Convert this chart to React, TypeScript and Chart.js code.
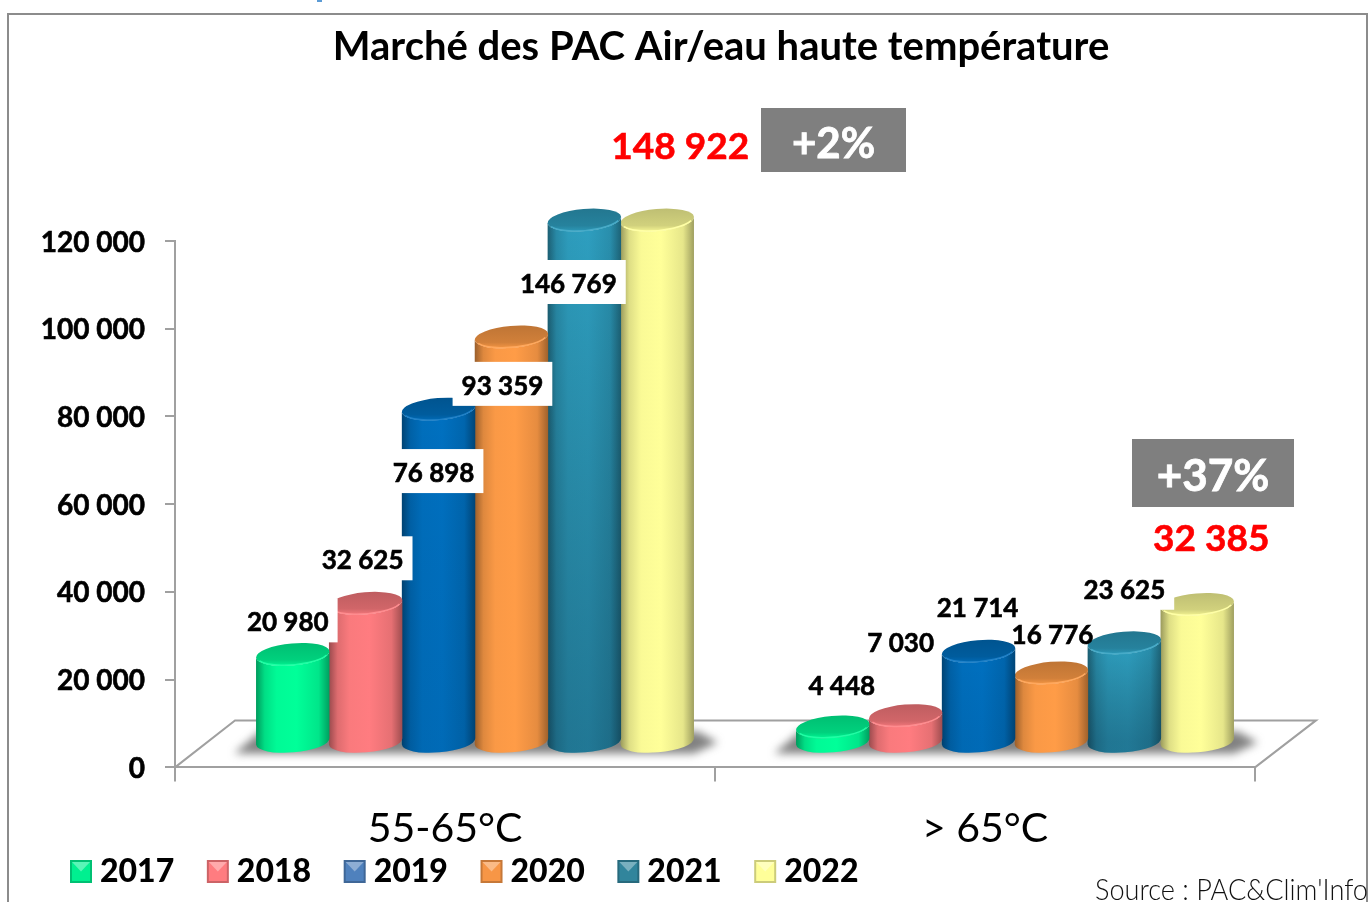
import React, { useEffect, useRef } from "react";
import { Chart, BarController, BarElement, registerables } from "chart.js";

const categories = ["55-65°C", "> 65°C"];
const years = ["2017", "2018", "2019", "2020", "2021", "2022"];
const values2017 = [20980, 4448];
const values2018 = [32625, 7030];
const values2019 = [76898, 21714];
const values2020 = [93359, 16776];
const values2021 = [146769, 23625];
const values2022 = [148922, 32385];
const yTicks = [0, 20000, 40000, 60000, 80000, 100000, 120000];
const growthLabels = ["+2%", "+37%"];
const chartTitle = "Marché des PAC Air/eau haute température";
const sourceNote = "Source : PAC&Clim'Info";

const seriesColors = ["#00FF99", "#FF7C80", "#0070C0", "#FF9C47", "#2E9FC0", "#FFFF99"];
const legendColors = ["#00F090", "#FF7C80", "#4F81BD", "#F79646", "#31859C", "#FFFF99"];
const bodyDarken = [0, 0, 0.06, 0, 0.28, 0];

const FONT = "Lato, Carlito, sans-serif";
const AXIS = "#A0A0A0";

// label offsets from [bar centre, bar top], by year then category; bg = white plate behind the text
const labelOffsets = [
  [{ dx: 25, dy: -55, bg: true }, { dx: 39, dy: -64, bg: false }],
  [{ dx: 27, dy: -66, bg: true }, { dx: 25, dy: -95, bg: false }],
  [{ dx: 25, dy: 41, bg: true }, { dx: 29, dy: -66, bg: false }],
  [{ dx: 21, dy: 26, bg: true }, { dx: 31, dy: -61, bg: false }],
  [{ dx: 14, dy: 41, bg: true }, { dx: 30, dy: -76, bg: true }],
  [{ dx: 53, dy: -96, bg: false }, { dx: 44, dy: -89, bg: false }],
];
const growthBoxes = [
  { x: 761, y: 108, w: 145, h: 64, size: 42 },
  { x: 1132, y: 439, w: 162, h: 68, size: 44 },
];

function shade(hex: string, f: number): string {
  const n = parseInt(hex.slice(1), 16);
  const c = [(n >> 16) & 255, (n >> 8) & 255, n & 255].map((v) => Math.round(v * f));
  return `rgb(${c[0]},${c[1]},${c[2]})`;
}
function lighten(hex: string, f: number): string {
  const n = parseInt(hex.slice(1), 16);
  const c = [(n >> 16) & 255, (n >> 8) & 255, n & 255].map((v) => Math.round(v + (255 - v) * f));
  return `rgb(${c[0]},${c[1]},${c[2]})`;
}
const formatNumber = (v: number) => String(v).replace(/\B(?=(\d{3})+(?!\d))/g, " ");

const TILT = (-5 * Math.PI) / 180;
const RY = 11;
const TOP_SHIFT = -21;
const BASE_SHIFT = -25;
const DEPTH_X = 30;
let plotTop = 0;

class CylinderElement extends BarElement {
  static id = "cylinder";
  draw(ctx: CanvasRenderingContext2D) {
    const self = this as any;
    const { x, y, base, width, options } = self;
    const color = options.backgroundColor as string;
    const idx = seriesColors.indexOf(color);
    const rx = width / 2 + 0.4;
    const cx = x + DEPTH_X;
    const topY = Math.max(y, plotTop) + TOP_SHIFT;
    const baseY = base + BASE_SHIFT;
    ctx.save();
    const grad = ctx.createLinearGradient(cx - rx, 0, cx + rx, 0);
    grad.addColorStop(0, shade(color, 0.6));
    grad.addColorStop(0.12, shade(color, 0.87));
    grad.addColorStop(0.28, shade(color, 0.98));
    grad.addColorStop(0.55, color);
    grad.addColorStop(0.85, shade(color, 0.9));
    grad.addColorStop(1, shade(color, 0.62));
    const body = () => {
      ctx.beginPath();
      ctx.ellipse(cx, topY, rx, RY, TILT, Math.PI, 0, true);
      ctx.ellipse(cx, baseY, rx, RY, TILT, 0, Math.PI, false);
      ctx.closePath();
    };
    body();
    ctx.fillStyle = grad;
    ctx.fill();
    const dark = bodyDarken[idx];
    if (dark > 0) {
      const v = ctx.createLinearGradient(0, topY, 0, baseY);
      v.addColorStop(0, "rgba(0,0,0,0)");
      v.addColorStop(1, `rgba(0,20,40,${dark})`);
      body();
      ctx.fillStyle = v;
      ctx.fill();
    }
    // top face
    const topGrad = ctx.createLinearGradient(0, topY - RY, 0, topY + RY);
    topGrad.addColorStop(0, shade(color, 0.75));
    topGrad.addColorStop(0.75, shade(color, 0.82));
    topGrad.addColorStop(1, shade(color, 0.95));
    ctx.beginPath();
    ctx.ellipse(cx, topY, rx, RY, TILT, 0, Math.PI * 2);
    ctx.fillStyle = topGrad;
    ctx.fill();
    ctx.beginPath();
    ctx.ellipse(cx, topY, rx - 1, RY - 0.5, TILT, 0.35, Math.PI - 0.35);
    ctx.strokeStyle = lighten(color, 0.12);
    ctx.lineWidth = 1.5;
    ctx.stroke();
    ctx.restore();
  }
}

class CylinderController extends BarController {
  static id = "cylinder";
  static defaults = { ...(BarController as any).defaults, dataElementType: "cylinder" };
}

Chart.register(...registerables, CylinderElement as any, CylinderController as any);

const cylinderScene = {
  id: "cylinderScene",
  afterLayout(chart: any) {
    plotTop = chart.chartArea.top;
    const tb = chart.titleBlock;
    tb.left = 74;
    tb.right = 1368;
    const lg = chart.legend;
    const w = lg.right - lg.left;
    const h = lg.bottom - lg.top;
    lg.left = 37.4;
    lg.right = 37.4 + w;
    lg.top = 823.4;
    lg.bottom = 823.4 + h;
    chart.scales.x.bottom = 860;
  },
  beforeDraw(chart: any) {
    const { ctx } = chart;
    ctx.save();
    ctx.strokeStyle = "#8C8C8C";
    ctx.lineWidth = 2;
    ctx.beginPath();
    ctx.moveTo(8, 903);
    ctx.lineTo(8, 14);
    ctx.lineTo(1367, 14);
    ctx.lineTo(1367, 903);
    ctx.stroke();
    ctx.fillStyle = "#5B9BD5";
    ctx.fillRect(317, 0, 5, 2);
    ctx.restore();
  },
  beforeDatasetsDraw(chart: any) {
    const { ctx, chartArea: a } = chart;
    ctx.save();
    ctx.strokeStyle = AXIS;
    ctx.lineWidth = 2;
    ctx.beginPath();
    ctx.moveTo(a.left, a.bottom);
    ctx.lineTo(a.left + 60, a.bottom - 47);
    ctx.lineTo(a.right + 61, a.bottom - 47);
    ctx.lineTo(a.right, a.bottom);
    ctx.stroke();
    const first = chart.getDatasetMeta(0).data;
    const last = chart.getDatasetMeta(years.length - 1).data;
    ctx.filter = "blur(4px)";
    ctx.fillStyle = "rgba(80,80,80,0.72)";
    first.forEach((el: any, i: number) => {
      const l = el.x - el.width / 2 + DEPTH_X - 22;
      const r = last[i].x + last[i].width / 2 + DEPTH_X + 24;
      ctx.beginPath();
      ctx.moveTo(l, a.bottom - 14);
      ctx.lineTo(l + 26, a.bottom - 36);
      ctx.lineTo(r - 20, a.bottom - 36);
      ctx.lineTo(r, a.bottom - 25);
      ctx.lineTo(r - 24, a.bottom - 14);
      ctx.closePath();
      ctx.fill();
    });
    ctx.restore();
  },
  afterDatasetsDraw(chart: any) {
    const { ctx, chartArea: a } = chart;
    ctx.save();
    ctx.textAlign = "center";
    ctx.textBaseline = "middle";
    chart.data.datasets.forEach((ds: any, i: number) => {
      chart.getDatasetMeta(i).data.forEach((el: any, j: number) => {
        const off = labelOffsets[i][j];
        const red = i === years.length - 1;
        const text = formatNumber(ds.data[j]);
        const cx = el.x + off.dx;
        const cy = Math.max(el.y, a.top) + off.dy;
        ctx.font = `bold ${red ? 37 : 26}px ${FONT}`;
        if (off.bg) {
          const w = ctx.measureText(text).width + 18;
          ctx.fillStyle = "#FFFFFF";
          ctx.fillRect(cx - w / 2, cy - 22, w, 44);
        }
        ctx.fillStyle = red ? "#FF0000" : "#000000";
        ctx.strokeStyle = ctx.fillStyle;
        ctx.lineWidth = 0.6;
        ctx.strokeText(text, cx, cy + 2.5);
        ctx.fillText(text, cx, cy + 2.5);
      });
    });
    growthBoxes.forEach((b, i) => {
      ctx.fillStyle = "#7F7F7F";
      ctx.fillRect(b.x, b.y, b.w, b.h);
      ctx.fillStyle = "#FFFFFF";
      ctx.strokeStyle = "#FFFFFF";
      ctx.lineWidth = 0.8;
      ctx.font = `bold ${b.size}px ${FONT}`;
      ctx.strokeText(growthLabels[i], b.x + b.w / 2, b.y + b.h / 2 + 4);
      ctx.fillText(growthLabels[i], b.x + b.w / 2, b.y + b.h / 2 + 4);
    });
    ctx.restore();
  },
  afterDraw(chart: any) {
    const { ctx } = chart;
    const lg = chart.legend;
    ctx.save();
    lg.legendHitBoxes.forEach((h: any, i: number) => {
      const x = h.left;
      const y = 860;
      const w = 22;
      const ht = 23;
      const c = legendColors[i];
      ctx.fillStyle = shade(c, 0.8);
      ctx.fillRect(x, y, w, ht);
      ctx.fillStyle = c;
      ctx.fillRect(x + 2, y + 2, w - 4, ht - 4);
      ctx.fillStyle = lighten(c, 0.35);
      ctx.beginPath();
      ctx.moveTo(x + 2, y + 2);
      ctx.lineTo(x + w - 2, y + 2);
      ctx.lineTo(x + w / 2, y + ht / 2);
      ctx.closePath();
      ctx.fill();
    });
    ctx.fillStyle = "#111111";
    ctx.font = `300 30px ${FONT}`;
    ctx.textAlign = "left";
    ctx.textBaseline = "alphabetic";
    ctx.fillText(sourceNote, 1095, 900, 273);
    ctx.restore();
  },
};

export default function App() {
  const ref = useRef<HTMLCanvasElement>(null);
  useEffect(() => {
    const seriesValues = [values2017, values2018, values2019, values2020, values2021, values2022];
    const chart = new Chart(ref.current as HTMLCanvasElement, {
      type: "cylinder" as any,
      data: {
        labels: categories,
        datasets: years.map((y, i) => ({
          label: y,
          data: seriesValues[i],
          backgroundColor: seriesColors[i],
          barPercentage: 1,
          categoryPercentage: 0.81,
          clip: false,
        })),
      } as any,
      options: {
        responsive: false,
        animation: false,
        layout: { padding: { left: 0, right: 113, top: 0, bottom: 0 } },
        plugins: {
          tooltip: { enabled: false },
          title: {
            display: true,
            text: chartTitle,
            color: "#000000",
            font: { family: FONT, size: 40, weight: "bold", lineHeight: 1 },
            padding: { top: 27, bottom: 174 },
          },
          legend: {
            position: "bottom",
            align: "start",
            labels: {
              boxWidth: 14,
              boxHeight: 14,
              padding: 32.6,
              color: "#000000",
              font: { family: FONT, size: 32, weight: 900 },
              generateLabels: () =>
                years.map((y, i) => ({
                  text: y,
                  fillStyle: "rgba(0,0,0,0)",
                  strokeStyle: "rgba(0,0,0,0)",
                  lineWidth: 0,
                  datasetIndex: i,
                })),
            },
          },
        },
        scales: {
          x: {
            type: "category",
            offset: true,
            grid: { offset: true, drawOnChartArea: false, color: AXIS, lineWidth: 2, tickLength: 14 },
            border: { color: AXIS, width: 2 },
            ticks: {
              color: "#000000",
              maxRotation: 0,
              padding: 23,
              font: { family: FONT, size: 41 },
            },
            afterFit: (s: any) => {
              s.height = 60;
            },
          },
          y: {
            type: "linear",
            min: 0,
            max: 120000,
            grid: { drawOnChartArea: false, color: AXIS, lineWidth: 2, tickLength: 10 },
            border: { color: AXIS, width: 2 },
            afterBuildTicks: (s: any) => {
              s.ticks = yTicks.map((value) => ({ value }));
            },
            ticks: {
              color: "#000000",
              padding: 20,
              labelOffset: 1.5,
              textStrokeColor: "#000000",
              textStrokeWidth: 0.6,
              font: { family: FONT, size: 28, weight: "bold" },
              callback: (v: any) => formatNumber(v as number),
            },
            afterFit: (s: any) => {
              s.width = 175;
            },
          },
        },
      } as any,
      plugins: [cylinderScene] as any,
    });
    return () => chart.destroy();
  }, []);
  return (
    <canvas
      ref={ref}
      width={1368}
      height={902}
      style={{ position: "fixed", left: 0, top: 0, display: "block" }}
    />
  );
}
